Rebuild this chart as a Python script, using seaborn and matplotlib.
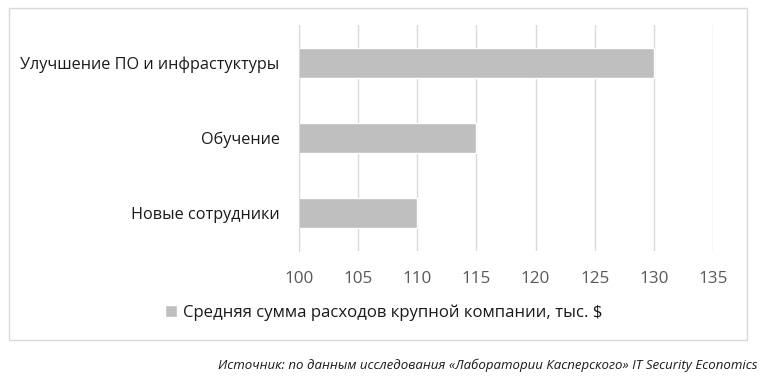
import pandas as pd
import seaborn as sns
import matplotlib.pyplot as plt
from matplotlib.patches import Rectangle

# Chart data
categories = ['Улучшение ПО и инфрастуктуры', 'Обучение', 'Новые сотрудники']
spending = [130, 115, 110]
series_name = 'Средняя сумма расходов крупной компании, тыс. $'
source_note = 'Источник: по данным исследования «Лаборатории Касперского» IT Security Economics'
x_ticks = [100, 105, 110, 115, 120, 125, 130, 135]

df = pd.DataFrame({'Category': categories, 'Spending': spending})

sns.set_style('white')
plt.rcParams['font.family'] = ['Open Sans', 'DejaVu Sans']

fig = plt.figure(figsize=(7.62, 3.78), dpi=100)
ax = fig.add_axes([299 / 762, 1 - 251 / 378, 414 / 762, 226 / 378])

sns.barplot(data=df, x='Spending', y='Category', orient='h', color='#bfbfbf',
            width=0.4, saturation=1, label=series_name, ax=ax)

ax.set_xlim(100, 135)
ax.set_ylim(2.5, -0.5)
ax.set_xticks(x_ticks)
ax.set_xlabel('')
ax.set_ylabel('')
ax.grid(axis='x', color='#d9d9d9', linewidth=1)
ax.set_axisbelow(True)
for side in ['top', 'right', 'bottom']:
    ax.spines[side].set_visible(False)
ax.spines['left'].set_color('#d9d9d9')
ax.tick_params(axis='x', length=0, pad=14.5, labelsize=12.3, labelcolor='#595959')
ax.tick_params(axis='y', length=0, pad=14, labelsize=11.7, labelcolor='#1a1a1a')

# Legend under the plot
ax.legend(loc='center', bbox_to_anchor=(384 / 762, 1 - 313 / 378),
          bbox_transform=fig.transFigure, frameon=False, fontsize=12.1,
          handlelength=0.7, handleheight=0.7, handletextpad=0.35,
          labelcolor='#1a1a1a')

# Chart border
fig.patches.append(Rectangle((9 / 762, 1 - 340 / 378), 738 / 762, 332 / 378,
                             transform=fig.transFigure, fill=False,
                             edgecolor='#d9d9d9', linewidth=1))

fig.text(758 / 762, 1 - 365 / 378, source_note, ha='right', va='center',
         fontsize=9.5, style='italic', color='#1a1a1a')

fig.savefig('out.png', dpi=100)
